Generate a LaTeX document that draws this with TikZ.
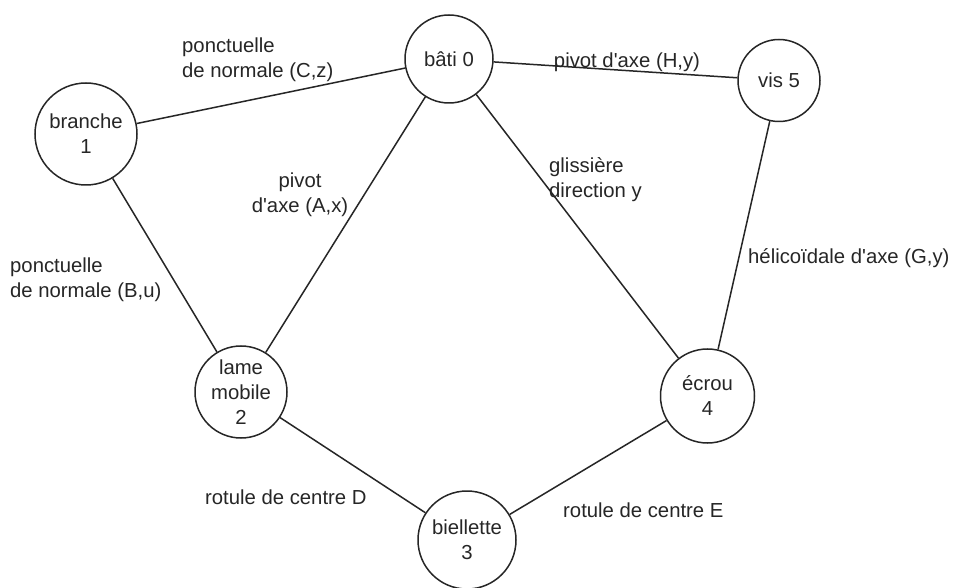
\documentclass[tikz,border=0pt]{standalone}
\usepackage{fontspec}
\setmainfont{Liberation Sans}
\definecolor{ink}{HTML}{262626}
\newcommand{\aqt}{\textquotesingle}
\begin{document}
\begin{tikzpicture}[x=1pt,y=-1pt,
  part/.style={circle,draw=ink,line width=1.5pt,inner sep=0pt,align=center,
    font=\fontsize{20.3}{25}\selectfont,text=ink,fill=white},
  link/.style={draw=ink,line width=1.5pt},
  lab/.style={font=\fontsize{20.3}{25}\selectfont,text=ink,inner sep=0pt}]
\useasboundingbox (0,0) rectangle (954,588);
\fill[white] (0,0) rectangle (954,588);
% parts
\node[part,minimum size=88pt] (b0) at (449,59) {b\^ati 0};
\node[part,minimum size=82pt] (v5) at (779,80.5) {vis 5};
\node[part,minimum size=102pt] (b1) at (86,134) {branche\\1};
\node[part,minimum size=92pt] (l2) at (241,392) {lame\\mobile\\2};
\node[part,minimum size=94pt] (e4) at (707.5,396) {\'ecrou\\4};
\node[part,minimum size=98pt] (b3) at (467,540) {biellette\\3};
% links
\draw[link] (b1) -- (b0);
\draw[link] (b0) -- (v5);
\draw[link] (b1) -- (l2);
\draw[link] (b0) -- (l2);
\draw[link] (b0) -- (e4);
\draw[link] (v5) -- (e4);
\draw[link] (l2) -- (b3);
\draw[link] (e4) -- (b3);
% labels
\node[lab,anchor=west,align=left] (tCz) at (182,60) {ponctuelle\\de normale (C,z)};
\node[lab] (tHy) at (627,62) {pivot d\aqt axe (H,y)};
\node[lab,align=center] (tAx) at (300,195) {pivot\\d\aqt axe (A,x)};
\node[lab,anchor=west,align=left] (tgl) at (549,180) {glissi\`ere\\direction y};
\node[lab,anchor=west,align=left] (tBu) at (10,280) {ponctuelle\\de normale (B,u)};
\node[lab,anchor=west] (tGy) at (748,258) {h\'elico\"\i dale d\aqt axe (G,y)};
\node[lab,anchor=west] (tD) at (205,497) {rotule de centre D};
\node[lab,anchor=west] (tE) at (563,510) {rotule de centre E};
\end{tikzpicture}
\end{document}
